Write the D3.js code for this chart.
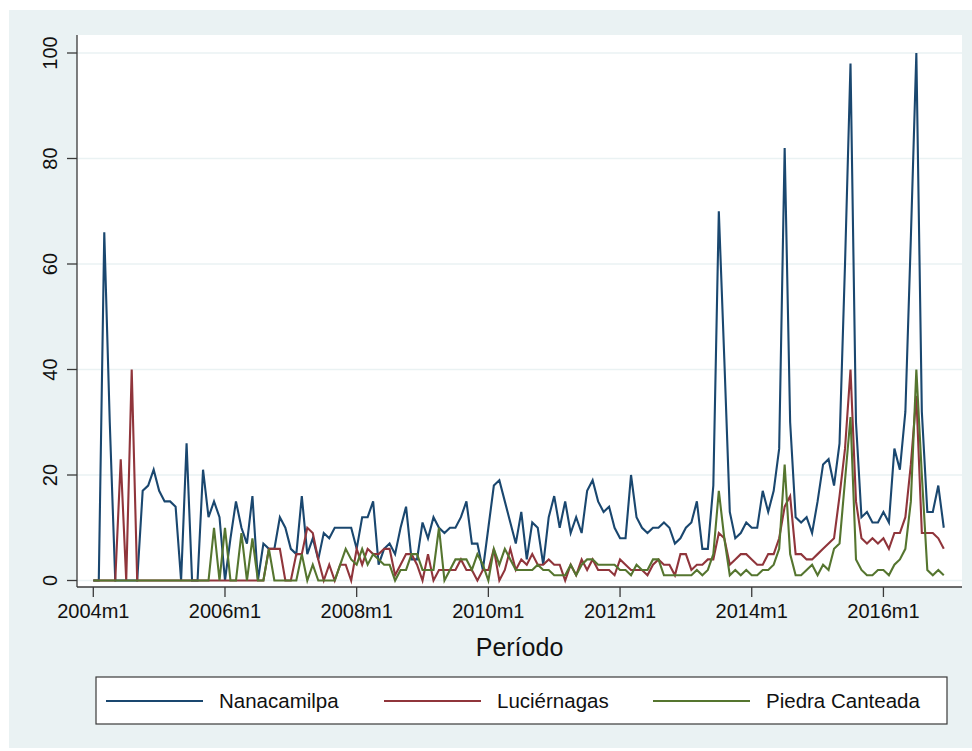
<!DOCTYPE html>
<html>
<head>
<meta charset="utf-8">
<script src="https://cdnjs.cloudflare.com/ajax/libs/d3/7.8.5/d3.min.js"></script>
<style>
  html, body { margin: 0; padding: 0; background: #ffffff; }
  svg { display: block; font-family: "Liberation Sans", Arial, Helvetica, sans-serif; }
</style>
</head>
<body>
<svg id="chart" width="972" height="751"></svg>
<script>
// monthly series, 2004m1 .. 2016m12 (index 0 = 2004m1)
const nanacamilpa = [
  0, 0, 66, 30, 0, 0, 0, 0, 0, 17, 18, 21, 17, 15, 15, 14, 0, 26, 0, 0, 21, 12, 15, 12,
  0, 8, 15, 10, 7, 16, 0, 7, 6, 6, 12, 10, 6, 5, 16, 5, 8, 4, 9, 8, 10, 10, 10, 10,
  6, 12, 12, 15, 3, 6, 7, 5, 10, 14, 4, 4, 11, 8, 12, 10, 9, 10, 10, 12, 15, 7, 7, 2,
  10, 18, 19, 15, 11, 7, 13, 4, 11, 10, 3, 12, 16, 10, 15, 9, 12, 9, 17, 19, 15, 13, 14, 10,
  8, 8, 20, 12, 10, 9, 10, 10, 11, 10, 7, 8, 10, 11, 15, 6, 6, 18, 70, 42, 13, 8, 9, 11,
  10, 10, 17, 13, 17, 25, 82, 30, 12, 11, 12, 9, 15, 22, 23, 18, 26, 60, 98, 30, 12, 13, 11, 11,
  13, 11, 25, 21, 32, 65, 100, 32, 13, 13, 18, 10
];
const luciernagas = [
  0, 0, 0, 0, 0, 23, 0, 40, 0, 0, 0, 0, 0, 0, 0, 0, 0, 0, 0, 0, 0, 0, 0, 0,
  0, 0, 0, 0, 0, 0, 0, 0, 6, 6, 6, 0, 0, 5, 5, 10, 9, 4, 0, 3, 0, 3, 3, 0,
  6, 3, 6, 5, 5, 6, 6, 1, 3, 5, 5, 3, 0, 5, 0, 2, 2, 2, 2, 4, 2, 2, 0, 2,
  2, 6, 0, 2, 6, 2, 4, 3, 5, 3, 3, 4, 3, 3, 0, 3, 1, 4, 2, 4, 2, 2, 2, 1,
  4, 3, 2, 2, 2, 1, 3, 4, 3, 3, 1, 5, 5, 2, 3, 3, 4, 4, 9, 8, 3, 4, 5, 5,
  4, 3, 3, 5, 5, 8, 14, 16, 5, 5, 4, 4, 5, 6, 7, 8, 16, 25, 40, 15, 8, 7, 8, 7,
  8, 6, 9, 9, 12, 22, 35, 9, 9, 9, 8, 6
];
const piedraCanteada = [
  0, 0, 0, 0, 0, 0, 0, 0, 0, 0, 0, 0, 0, 0, 0, 0, 0, 0, 0, 0, 0, 0, 10, 0,
  10, 0, 0, 9, 0, 8, 0, 0, 6, 0, 0, 0, 0, 0, 5, 0, 3, 0, 0, 0, 0, 3, 6, 4,
  3, 6, 3, 5, 4, 3, 3, 0, 2, 2, 5, 5, 2, 2, 2, 10, 0, 2, 4, 4, 4, 2, 5, 3,
  0, 6, 3, 6, 4, 2, 2, 2, 2, 3, 2, 2, 1, 1, 1, 3, 1, 3, 4, 4, 3, 3, 3, 3,
  2, 2, 1, 3, 2, 2, 4, 4, 1, 1, 1, 1, 1, 1, 2, 1, 2, 5, 17, 8, 1, 2, 1, 2,
  1, 1, 2, 2, 3, 6, 22, 5, 1, 1, 2, 3, 1, 3, 2, 6, 7, 19, 31, 4, 2, 1, 1, 2,
  2, 1, 3, 4, 6, 15, 40, 20, 2, 1, 2, 1
];

const seriesNames = ['Nanacamilpa', 'Luciérnagas', 'Piedra Canteada'];
const seriesColors = ['#1a476f', '#90353b', '#55752f'];
const xTickMonths = [0, 24, 48, 72, 96, 120, 144];
const xTickLabels = ['2004m1', '2006m1', '2008m1', '2010m1', '2012m1', '2014m1', '2016m1'];
const yTicks = [0, 20, 40, 60, 80, 100];

const svg = d3.select('#chart');

// graph region and plot region
svg.append('rect')
  .attr('x', 9).attr('y', 10)
  .attr('width', 963).attr('height', 738)
  .attr('fill', '#eaf2f3');

const plot = { left: 77, right: 962, top: 35, bottom: 587 };

svg.append('rect')
  .attr('x', plot.left).attr('y', plot.top)
  .attr('width', plot.right - plot.left)
  .attr('height', plot.bottom - plot.top)
  .attr('fill', '#ffffff');

const x = d3.scaleLinear()
  .domain([0, 155])
  .range([93.3, 93.3 + 155 * 5.487]);

const y = d3.scaleLinear()
  .domain([0, 100])
  .range([580.5, 53]);

// gridlines
svg.append('g')
  .selectAll('line')
  .data(yTicks)
  .join('line')
  .attr('x1', plot.left).attr('x2', plot.right)
  .attr('y1', d => y(d)).attr('y2', d => y(d))
  .attr('stroke', '#eaf2f3')
  .attr('stroke-width', 1.6);

// series lines
const allSeries = [nanacamilpa, luciernagas, piedraCanteada];
const line = d3.line()
  .x((d, i) => x(i))
  .y(d => y(d));

svg.append('g')
  .selectAll('path')
  .data(allSeries)
  .join('path')
  .attr('d', d => line(d))
  .attr('fill', 'none')
  .attr('stroke', (d, i) => seriesColors[i])
  .attr('stroke-width', 2.1)
  .attr('stroke-linejoin', 'miter');

// y axis
const yAxis = svg.append('g');
yAxis.append('line')
  .attr('x1', plot.left).attr('x2', plot.left)
  .attr('y1', plot.top).attr('y2', plot.bottom)
  .attr('stroke', '#3a3a3a').attr('stroke-width', 1.3);

yAxis.selectAll('.ytick')
  .data(yTicks)
  .join('line')
  .attr('class', 'ytick')
  .attr('x1', 67).attr('x2', plot.left)
  .attr('y1', d => y(d)).attr('y2', d => y(d))
  .attr('stroke', '#3a3a3a').attr('stroke-width', 1.3);

yAxis.selectAll('.ylab')
  .data(yTicks)
  .join('text')
  .attr('class', 'ylab')
  .attr('transform', d => `translate(57,${y(d)}) rotate(-90)`)
  .attr('text-anchor', 'middle')
  .attr('font-size', 20)
  .attr('fill', '#111')
  .text(d => d);

// x axis
const xAxis = svg.append('g');
xAxis.append('line')
  .attr('x1', plot.left).attr('x2', plot.right)
  .attr('y1', plot.bottom).attr('y2', plot.bottom)
  .attr('stroke', '#3a3a3a').attr('stroke-width', 1.3);

xAxis.selectAll('.xtick')
  .data(xTickMonths)
  .join('line')
  .attr('class', 'xtick')
  .attr('x1', d => x(d)).attr('x2', d => x(d))
  .attr('y1', plot.bottom).attr('y2', plot.bottom + 10)
  .attr('stroke', '#3a3a3a').attr('stroke-width', 1.3);

xAxis.selectAll('.xlab')
  .data(xTickMonths)
  .join('text')
  .attr('class', 'xlab')
  .attr('x', d => x(d))
  .attr('y', 618)
  .attr('text-anchor', 'middle')
  .attr('font-size', 20)
  .attr('fill', '#111')
  .text((d, i) => xTickLabels[i]);

svg.append('text')
  .attr('x', (plot.left + plot.right) / 2)
  .attr('y', 656)
  .attr('text-anchor', 'middle')
  .attr('font-size', 25)
  .attr('fill', '#111')
  .text('Período');

// legend
const legendX = [106, 384, 653];
const legend = svg.append('g');
legend.append('rect')
  .attr('x', 96).attr('y', 677)
  .attr('width', 851).attr('height', 47)
  .attr('fill', '#ffffff')
  .attr('stroke', '#3a3a3a').attr('stroke-width', 1.2);

const items = legend.selectAll('.item')
  .data(seriesNames)
  .join('g')
  .attr('class', 'item')
  .attr('transform', (d, i) => `translate(${legendX[i]},701)`);

items.append('line')
  .attr('x1', 0).attr('x2', 97)
  .attr('stroke', (d, i) => seriesColors[i])
  .attr('stroke-width', 2.1);

items.append('text')
  .attr('x', 113)
  .attr('y', 7)
  .attr('font-size', 20.5)
  .attr('fill', '#111')
  .text(d => d);
</script>
</body>
</html>
